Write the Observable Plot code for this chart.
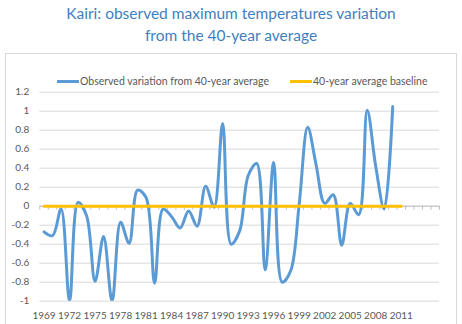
<!DOCTYPE html>
<html><head><meta charset="utf-8">
<script src="https://cdn.jsdelivr.net/npm/d3@7"></script>
<script src="https://cdn.jsdelivr.net/npm/@observablehq/plot@0.6"></script>
<style>
body{margin:0;background:#fff;font-family:Lato,sans-serif;}
#wrap{position:relative;width:462px;height:324px;overflow:hidden;background:#fff;}
#title{position:absolute;left:0;top:3px;width:462px;text-align:center;color:#3f7fbf;font-size:15.5px;line-height:21.5px;}
#box{position:absolute;left:5px;top:53px;width:450px;height:300px;border:1px solid #d9d9d9;}
#chart{position:absolute;left:0;top:0;}
.leg{position:absolute;top:74px;height:14px;font-size:10.5px;line-height:14px;color:#595959;white-space:nowrap;}
.sw{display:inline-block;width:22px;height:3px;vertical-align:middle;margin-right:1px;position:relative;top:-1px;}
</style>
</head><body>
<div id="wrap">
  <div id="title">Kairi: observed maximum temperatures variation<br>from the 40-year average</div>
  <div id="box"></div>
  <div id="chart"></div>
  <div class="leg" style="left:57px"><span class="sw" style="background:#5b9bd5"></span>Observed variation from 40-year average</div>
  <div class="leg" style="left:290px"><span class="sw" style="background:#ffc000"></span>40-year average baseline</div>
</div>
<script>
// Categories on the axis
const categories = d3.range(1969, 2016);
// Observed series years and values
const obsYears = [1969,1970,1971,1972,1973,1974,1975,1976,1977,1978,1979,1980,1981,1982,1983,1984,1985,1986,1987,1988,1989,1990,1991,1992,1993,1994,1995,1996,1997,1998,1999,2000,2001,2002,2003,2004,2005,2006,2007,2008,2009,2010];
const observed = [-0.27,-0.31,-0.03,-1.0,0.04,-0.1,-0.79,-0.32,-1.0,-0.17,-0.39,0.17,0.09,-0.81,-0.03,-0.11,-0.23,-0.05,-0.21,0.21,-0.01,0.87,-0.4,-0.26,0.32,0.45,-0.67,0.46,-0.8,-0.68,0.02,0.83,0.43,0.03,0.12,-0.41,0.03,-0.09,1.01,0.42,-0.03,1.05];
// Baseline series
const baseYears = [1969,1970,1971,1972,1973,1974,1975,1976,1977,1978,1979,1980,1981,1982,1983,1984,1985,1986,1987,1988,1989,1990,1991,1992,1993,1994,1995,1996,1997,1998,1999,2000,2001,2002,2003,2004,2005,2006,2007,2008,2009,2010,2011];
const baseline = [0,0,0,0,0,0,0,0,0,0,0,0,0,0,0,0,0,0,0,0,0,0,0,0,0,0,0,0,0,0,0,0,0,0,0,0,0,0,0,0,0,0,0];
// Tick labels
const xTicks = [1969,1972,1975,1978,1981,1984,1987,1990,1993,1996,1999,2002,2005,2008,2011];
const yTicks = [-1,-0.8,-0.6,-0.4,-0.2,0,0.2,0.4,0.6,0.8,1,1.2];

const obsData = obsYears.map((y,i)=>({year:y, value:observed[i]}));
const baseData = baseYears.map((y,i)=>({year:y, value:baseline[i]}));
const boundaries = categories.map(c=>c-0.5).concat([categories[categories.length-1]+0.5]);

const chart = Plot.plot({
  width:462, height:324,
  marginLeft:39.3, marginRight:23, marginTop:91.7, marginBottom:23.3,
  style:{background:"transparent", fontFamily:"Lato, sans-serif", fontSize:"10px", color:"#595959", overflow:"visible"},
  x:{domain:[1968.5,2015.5]},
  y:{domain:[-1,1.2]},
  marks:[
    Plot.gridY(yTicks, {stroke:"#d9d9d9", strokeOpacity:1}),
    Plot.axisY(yTicks, {tickSize:0, tickPadding:10.6, fill:"#595959", fontSize:10, tickFormat:d=>String(d), label:null}),
    Plot.axisX(xTicks, {tickSize:0, tickPadding:10.5, fill:"#595959", fontSize:10, tickFormat:d=>String(d), label:null}),
    Plot.ruleY([0], {stroke:"#bfbfbf"}),
    Plot.ruleX(boundaries, {x:d=>d, y1:()=>0, y2:()=>0, insetBottom:-4, stroke:"#bfbfbf"}),
    Plot.line(obsData, {x:"year", y:"value", stroke:"#5b9bd5", strokeWidth:3, curve:"catmull-rom", clip:true}),
    Plot.line(baseData, {x:"year", y:"value", stroke:"#ffc000", strokeWidth:3})
  ]
});
document.getElementById("chart").appendChild(chart);
</script>
</body></html>
